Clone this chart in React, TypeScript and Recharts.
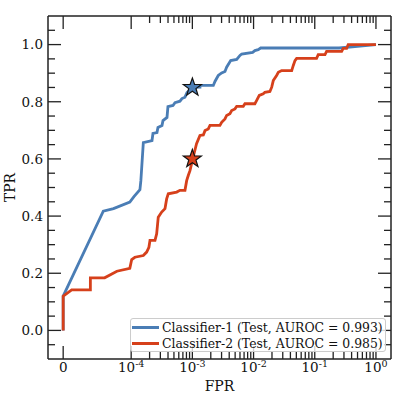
import React from 'react';
import { ComposedChart, Line, Scatter, XAxis, YAxis, Legend } from 'recharts';

// ROC curves
const classifier1Fpr = [0, 0, 5.9e-5, 7.4e-5, 9.8e-5, 1.11e-4, 1.39e-4, 1.44e-4, 1.58e-4, 2.19e-4, 2.27e-4, 2.64e-4, 2.74e-4, 3.19e-4, 3.31e-4, 3.85e-4, 3.99e-4, 4.82e-4, 5.2e-4, 6.27e-4, 6.76e-4, 7.57e-4, 8.17e-4, 1.0e-3, 1.33e-3, 1.33e-3, 2.2e-3, 2.34e-3, 2.65e-3, 3.01e-3, 3.41e-3, 3.63e-3, 4.23e-3, 5.3e-3, 6.0e-3, 6.4e-3, 9.67e-3, 1.05e-2, 1.19e-2, 1.31e-2, 0.25, 1.0];
const classifier1Tpr = [0, 0.12, 0.417, 0.426, 0.449, 0.468, 0.492, 0.524, 0.657, 0.664, 0.689, 0.692, 0.71, 0.717, 0.734, 0.745, 0.783, 0.787, 0.797, 0.802, 0.811, 0.816, 0.832, 0.85, 0.851, 0.857, 0.857, 0.871, 0.892, 0.901, 0.906, 0.921, 0.944, 0.948, 0.962, 0.967, 0.973, 0.979, 0.982, 0.988, 0.988, 1.0];

const classifier2Fpr = [0, 0, 1.25e-5, 4.0e-5, 4.0e-5, 6.1e-5, 7.9e-5, 9.8e-5, 1.02e-4, 1.15e-4, 1.58e-4, 1.79e-4, 1.95e-4, 2.03e-4, 2.45e-4, 2.61e-4, 2.77e-4, 3.15e-4, 3.57e-4, 3.8e-4, 4.04e-4, 5.54e-4, 6.27e-4, 7.57e-4, 8.07e-4, 8.57e-4, 9.14e-4, 1.03e-3, 1.17e-3, 1.33e-3, 1.51e-3, 1.61e-3, 1.82e-3, 1.94e-3, 2.82e-3, 3.01e-3, 3.41e-3, 3.63e-3, 4.11e-3, 4.39e-3, 4.97e-3, 5.3e-3, 6.79e-3, 7.23e-3, 1.05e-2, 1.12e-2, 1.24e-2, 1.44e-2, 1.53e-2, 1.85e-2, 1.98e-2, 2.1e-2, 2.38e-2, 2.54e-2, 2.88e-2, 4.2e-2, 4.46e-2, 4.75e-2, 5.06e-2, 0.107, 0.114, 0.147, 0.156, 0.275, 0.292, 0.332, 0.352, 1.0];
const classifier2Tpr = [0, 0.12, 0.142, 0.142, 0.184, 0.184, 0.207, 0.217, 0.248, 0.256, 0.262, 0.274, 0.291, 0.315, 0.315, 0.338, 0.396, 0.414, 0.426, 0.46, 0.478, 0.484, 0.49, 0.49, 0.524, 0.542, 0.559, 0.606, 0.653, 0.682, 0.684, 0.699, 0.705, 0.717, 0.717, 0.728, 0.74, 0.752, 0.758, 0.769, 0.775, 0.784, 0.784, 0.793, 0.793, 0.804, 0.822, 0.828, 0.833, 0.836, 0.851, 0.874, 0.892, 0.903, 0.909, 0.909, 0.927, 0.944, 0.952, 0.952, 0.965, 0.965, 0.976, 0.976, 0.987, 0.987, 1.0, 1.0];

const seriesNames = ['Classifier-1 (Test, AUROC = 0.993)', 'Classifier-2 (Test, AUROC = 0.985)'];
const seriesColors = ['#4a7db5', '#d6401b'];

// operating points (stars)
const operatingFpr = [1e-3, 1e-3];
const operatingTpr = [0.85, 0.6];

const xMajorFpr = [0, 1e-4, 1e-3, 1e-2, 1e-1, 1];
const xTickExponents = ['', '-4', '-3', '-2', '-1', '0'];
const yMajorTicks = [0, 0.2, 0.4, 0.6, 0.8, 1.0];
const yTickLabels = ['0.0', '0.2', '0.4', '0.6', '0.8', '1.0'];
const yMinorTicks = [-0.05, 0.05, 0.1, 0.15, 0.25, 0.3, 0.35, 0.45, 0.5, 0.55, 0.65, 0.7, 0.75, 0.85, 0.9, 0.95, 1.05];

// symlog like matplotlib: linthresh 1e-4, linscale 1
const LINTHRESH = 1e-4;
const LINSCALE = 1 / (1 - 1 / 10);
const symlog = (v: number) => (v <= LINTHRESH ? (v / LINTHRESH) * LINSCALE : LINSCALE + Math.log10(v / LINTHRESH));

const xMajorT = xMajorFpr.map(symlog);
const xMinorT: number[] = [];
for (let k = -4; k <= -1; k++) {
  for (let m = 2; m <= 9; m++) xMinorT.push(symlog(m * Math.pow(10, k)));
}
const xTicks = [...xMajorT, ...xMinorT].sort((a, b) => a - b);
const yTicks = [...yMajorTicks, ...yMinorTicks].sort((a, b) => a - b);

const curve1 = classifier1Fpr.map((f, i) => ({ x: symlog(f), y: classifier1Tpr[i] }));
const curve2 = classifier2Fpr.map((f, i) => ({ x: symlog(f), y: classifier2Tpr[i] }));
const star1 = [{ x: symlog(operatingFpr[0]), y: operatingTpr[0] }];
const star2 = [{ x: symlog(operatingFpr[1]), y: operatingTpr[1] }];

const FONT = 'DejaVu Serif';
const TICK_COLOR = '#222';
const MAJOR = 13;
const MINOR = 7;

const findIdx = (arr: number[], v: number) => arr.findIndex(m => Math.abs(m - v) < 1e-6);

const BottomTick = (props: any) => {
  const { x, y, payload } = props;
  const idx = findIdx(xMajorT, payload.value);
  const base = y - 4;
  return (
    <g>
      <line x1={x} x2={x} y1={base} y2={base - (idx >= 0 ? MAJOR : MINOR)} stroke={TICK_COLOR} strokeWidth={1.3} />
      {idx === 0 && (
        <text x={x} y={base + 13} textAnchor="middle" fontFamily={FONT} fontSize={13.5} fill="#111">0</text>
      )}
      {idx > 0 && (
        <text x={x} y={base + 13} textAnchor="middle" fontFamily={FONT} fontSize={13.5} fill="#111">
          10<tspan dy={-5} fontSize={9.5}>{xTickExponents[idx]}</tspan>
        </text>
      )}
    </g>
  );
};

const TopTick = (props: any) => {
  const { x, y, payload } = props;
  const major = findIdx(xMajorT, payload.value) >= 0;
  return <line x1={x} x2={x} y1={y} y2={y + (major ? MAJOR : MINOR)} stroke={TICK_COLOR} strokeWidth={1.3} />;
};

const LeftTick = (props: any) => {
  const { x, y, payload } = props;
  const idx = findIdx(yMajorTicks, payload.value);
  const edge = x + 5;
  return (
    <g>
      <line x1={edge} x2={edge + (idx >= 0 ? MAJOR : MINOR)} y1={y} y2={y} stroke={TICK_COLOR} strokeWidth={1.3} />
      {idx >= 0 && (
        <text x={x} y={y} dy="0.36em" textAnchor="end" fontFamily={FONT} fontSize={13.5} fill="#111">{yTickLabels[idx]}</text>
      )}
    </g>
  );
};

const RightTick = (props: any) => {
  const { x, y, payload } = props;
  const major = findIdx(yMajorTicks, payload.value) >= 0;
  return <line x1={x} x2={x - (major ? MAJOR : MINOR)} y1={y} y2={y} stroke={TICK_COLOR} strokeWidth={1.3} />;
};

const starShape = (fill: string) => (props: any) => {
  const { cx, cy } = props;
  const pts: string[] = [];
  for (let i = 0; i < 10; i++) {
    const r = i % 2 === 0 ? 9.5 : 3.8;
    const a = -Math.PI / 2 + (i * Math.PI) / 5;
    pts.push(`${cx + r * Math.cos(a)},${cy + r * Math.sin(a)}`);
  }
  return <polygon points={pts.join(' ')} fill={fill} stroke="#111" strokeWidth={1.2} strokeLinejoin="miter" />;
};

const LegendBox = (props: any) => {
  const items = (props.payload || []).filter((p: any) => p.type !== 'none');
  return (
    <div style={{
      border: '1px solid #cccccc',
      borderRadius: 3,
      background: 'rgba(255,255,255,0.8)',
      width: 256,
      boxSizing: 'border-box',
      fontFamily: FONT,
      fontSize: 12.4,
      color: '#111',
    }}>
      {items.map((p: any) => (
        <div key={p.value} style={{ display: 'flex', alignItems: 'center', height: 16 }}>
          <div style={{ width: 27, height: 3, background: p.color, marginLeft: 1, marginRight: 3 }} />
          <span style={{ whiteSpace: 'nowrap' }}>{p.value}</span>
        </div>
      ))}
    </div>
  );
};

const App = () => {
  const domainX: [number, number] = [-0.248, 5.357];
  return (
    <div style={{ position: 'absolute', left: 0, top: 0, width: 399, height: 399, background: '#fff' }}>
      <ComposedChart width={399} height={399} margin={{ top: 0, right: 0, bottom: 0, left: 0 }}>
        <XAxis
          dataKey="x" type="number" domain={domainX} allowDataOverflow ticks={xTicks} interval={0}
          height={40} tickSize={0} tickMargin={4} tickLine={false}
          axisLine={{ stroke: TICK_COLOR, strokeWidth: 1.5 }} tick={<BottomTick />}
          label={{ value: 'FPR', position: 'insideBottom', offset: 8, fontFamily: FONT, fontSize: 14, fill: '#111' }}
        />
        <XAxis
          xAxisId="top" orientation="top" dataKey="x" type="number" domain={domainX} allowDataOverflow ticks={xTicks} interval={0}
          height={16} tickSize={0} tickMargin={0} tickLine={false}
          axisLine={{ stroke: TICK_COLOR, strokeWidth: 1.5 }} tick={<TopTick />}
        />
        <YAxis
          dataKey="y" type="number" domain={[-0.1, 1.1]} allowDataOverflow ticks={yTicks} interval={0}
          width={48} tickSize={0} tickMargin={5} tickLine={false}
          axisLine={{ stroke: TICK_COLOR, strokeWidth: 1.5 }} tick={<LeftTick />}
          label={{ value: 'TPR', angle: -90, position: 'insideLeft', offset: 10, fontFamily: FONT, fontSize: 14, fill: '#111', style: { textAnchor: 'middle' } }}
        />
        <YAxis
          yAxisId="right" orientation="right" dataKey="y" type="number" domain={[-0.1, 1.1]} allowDataOverflow ticks={yTicks} interval={0}
          width={8} tickSize={0} tickMargin={0} tickLine={false}
          axisLine={{ stroke: TICK_COLOR, strokeWidth: 1.5 }} tick={<RightTick />}
        />
        <Line data={curve1} dataKey="y" name={seriesNames[0]} type="linear" stroke={seriesColors[0]} strokeWidth={2.8} dot={false} isAnimationActive={false} />
        <Line data={curve2} dataKey="y" name={seriesNames[1]} type="linear" stroke={seriesColors[1]} strokeWidth={2.8} dot={false} isAnimationActive={false} />
        <Scatter data={star1} dataKey="y" legendType="none" shape={starShape(seriesColors[0])} isAnimationActive={false} />
        <Scatter data={star2} dataKey="y" legendType="none" shape={starShape(seriesColors[1])} isAnimationActive={false} />
        <Legend
          layout="vertical" align="center" verticalAlign="middle"
          content={<LegendBox />}
          wrapperStyle={{ left: 130, top: 318, width: 'auto', height: 'auto' }}
        />
      </ComposedChart>
    </div>
  );
};

export default App;
